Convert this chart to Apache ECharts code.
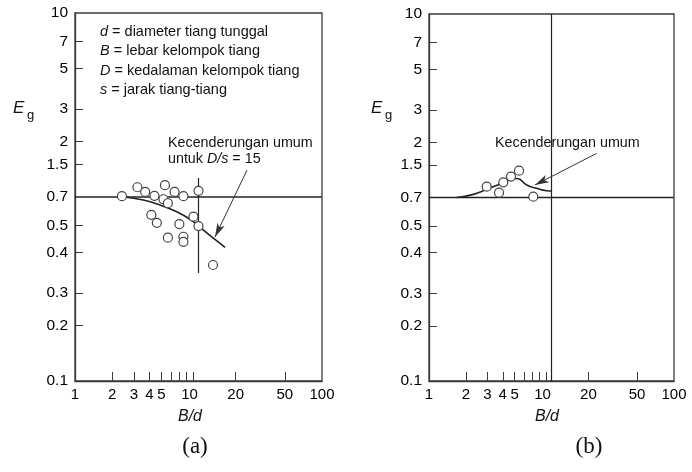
<!DOCTYPE html>
<html>
<head>
<meta charset="utf-8">
<style>
  html, body { margin: 0; padding: 0; background: #fff; }
  #chart-container { width: 692px; height: 472px; }
</style>
</head>
<body>
<div id="chart-container"></div>
<script src="https://cdn.jsdelivr.net/npm/echarts@6.0.0/dist/echarts.min.js"></script>
<script>
// data (sumbu log-log)
var bdA = [2.4, 3.2, 3.7, 4.4, 5.35, 6.4, 7.55, 10, 5.2, 5.65, 4.15, 4.6, 7.0, 9.1, 10, 5.65, 7.55, 7.55, 13.1];
var egA = [1.01, 1.13, 1.065, 1.015, 1.16, 1.065, 1.01, 1.08, 0.972, 0.925, 0.8, 0.724, 0.713, 0.782, 0.695, 0.601, 0.608, 0.571, 0.427];
var trendAx = [2.5, 3.57, 4.88, 6.66, 8.53, 10.3, 13.2, 16.4];
var trendAy = [1.0, 0.963, 0.905, 0.832, 0.757, 0.684, 0.597, 0.533];

var bdB = [2.96, 3.73, 4.04, 4.67, 5.43, 7.1];
var egB = [1.145, 1.062, 1.21, 1.3, 1.4, 1.01];
var trendBx = [1.68, 2.3, 2.96, 3.8, 4.73, 5.23, 6.28, 7.57, 9.14, 10];
var trendBy = [1.0, 1.04, 1.108, 1.185, 1.256, 1.27, 1.17, 1.122, 1.089, 1.085];

// garis bantu dan panah keterangan
var batasA = [0.386, 1.27];        // garis tegak B/d = 10 pada (a)
var panahA = [[24.7, 1.40], [13.6, 0.606]];
var panahB = [[23.4, 1.74], [7.33, 1.17]];

var xTicks = [2, 3, 4, 5, 6, 7, 8, 9, 20, 50];
var xLabelVals = [1, 2, 3, 4, 5, 10, 20, 50, 100];
var yTicks = [0.2, 0.3, 0.5, 0.7, 1.5, 2, 3, 5, 7];
var yLabelVals = [0.1, 0.2, 0.3, 0.5, 0.7, 1, 1.5, 2, 3, 5, 7, 10];
var yLabelText = ['0.1', '0.2', '0.3', '0.4', '0.5', '0.7', '1.5', '2', '3', '5', '7', '10'];

var FONT = 'Liberation Sans, Arial, sans-serif';
var INK = '#3a3a3a';

function pasang(xs, ys) {
  return xs.map(function (x, i) { return [x, ys[i]]; });
}

function sumbuX(gridIndex) {
  return {
    type: 'log', gridIndex: gridIndex, min: 1, max: 100, logBase: 10,
    axisLine: { lineStyle: { color: INK, width: 1.3 } },
    axisTick: { inside: true, length: 9, customValues: xTicks, lineStyle: { color: INK, width: 1 } },
    minorTick: { show: false },
    splitLine: { show: false },
    axisLabel: {
      customValues: xLabelVals, margin: 6, color: '#000', fontSize: 15, fontFamily: FONT,
      formatter: function (v) {
        var r = Math.round(v);
        return r === 10 ? '{s|10}' : String(r);
      },
      rich: { s: { fontSize: 15, fontFamily: FONT, color: '#000', padding: [0, 18, 0, 0] } }
    }
  };
}

function sumbuY(gridIndex) {
  return {
    type: 'log', gridIndex: gridIndex, min: 0.1, max: 10, logBase: 10,
    axisLine: { lineStyle: { color: INK, width: 1.3 } },
    axisTick: { inside: true, length: 8, customValues: yTicks, lineStyle: { color: INK, width: 1 } },
    minorTick: { show: false },
    splitLine: { show: false },
    axisLabel: {
      customValues: yLabelVals, margin: 7, color: '#000', fontSize: 15.5, fontFamily: FONT,
      formatter: function (v) {
        for (var i = 0; i < yLabelVals.length; i++) {
          if (Math.abs(yLabelVals[i] - v) < 1e-6 * yLabelVals[i] + 1e-9) return yLabelText[i];
        }
        return '';
      }
    }
  };
}

function garis(idx, data, smooth, width) {
  return {
    type: 'line', xAxisIndex: idx, yAxisIndex: idx, data: data, smooth: smooth,
    symbol: 'none', silent: true, z: 2,
    lineStyle: { color: '#222', width: width }
  };
}

function titik(idx, data) {
  return {
    type: 'scatter', xAxisIndex: idx, yAxisIndex: idx, data: data,
    symbol: 'circle', symbolSize: 9, z: 5,
    itemStyle: { color: '#fff', borderColor: '#444', borderWidth: 1.2, opacity: 1 }
  };
}

function panah(idx, p) {
  return {
    type: 'line', xAxisIndex: idx, yAxisIndex: idx, data: [], z: 3,
    markLine: {
      silent: true, animation: false,
      symbol: ['none', 'arrow'], symbolSize: [6, 14],
      label: { show: false },
      lineStyle: { color: '#333', width: 1, type: 'solid' },
      data: [[{ coord: p[0] }, { coord: p[1] }]]
    }
  };
}

function teks(x, y, text, size, extra) {
  var st = {
    text: text, x: 0, y: 0, fill: '#111', fontSize: size, fontFamily: FONT,
    verticalAlign: 'middle', align: 'left'
  };
  for (var k in (extra || {})) st[k] = extra[k];
  return { type: 'text', x: x, y: y, style: st, z: 10 };
}

var miring = { i: { fontStyle: 'italic', fontSize: 14.5, fontFamily: FONT, fill: '#111' } };

var option = {
  animation: false,
  backgroundColor: '#fff',
  grid: [
    { left: 75, width: 247, top: 13, bottom: 91, show: true, borderColor: INK, borderWidth: 1.3 },
    { left: 429, width: 245, top: 14, bottom: 91, show: true, borderColor: INK, borderWidth: 1.3 }
  ],
  xAxis: [sumbuX(0), sumbuX(1)],
  yAxis: [sumbuY(0), sumbuY(1)],
  series: [
    garis(0, [[1, 1], [100, 1]], false, 1.4),
    garis(0, [[10, batasA[0]], [10, batasA[1]]], false, 1.2),
    garis(0, pasang(trendAx, trendAy), true, 1.6),
    panah(0, panahA),
    titik(0, pasang(bdA, egA)),

    garis(1, [[1, 1], [100, 1]], false, 1.4),
    garis(1, [[10, 0.1], [10, 10]], false, 1.2),
    garis(1, pasang(trendBx, trendBy), true, 1.6),
    panah(1, panahB),
    titik(1, pasang(bdB, egB))
  ],
  graphic: [
    teks(100, 31.5, '{i|d} = diameter tiang tunggal', 14.5, { rich: miring }),
    teks(100, 51, '{i|B} = lebar kelompok tiang', 14.5, { rich: miring }),
    teks(100, 70.5, '{i|D} = kedalaman kelompok tiang', 14.5, { rich: miring }),
    teks(100, 90, '{i|s} = jarak tiang-tiang', 14.5, { rich: miring }),

    teks(168, 143, 'Kecenderungan umum', 14.3),
    teks(168, 159, 'untuk {j|D/s} = 15', 14.3, { rich: { j: { fontStyle: 'italic', fontSize: 14.3, fontFamily: FONT, fill: '#111' } } }),
    teks(495, 143, 'Kecenderungan umum', 14.3),

    teks(13, 108, 'E', 17, { fontStyle: 'italic' }),
    teks(27, 115, 'g', 13),
    teks(371, 108, 'E', 17, { fontStyle: 'italic' }),
    teks(385, 115, 'g', 13),

    teks(190, 417, 'B/d', 16, { fontStyle: 'italic', align: 'center' }),
    teks(547, 417, 'B/d', 16, { fontStyle: 'italic', align: 'center' }),

    teks(195, 447, '(a)', 23, { align: 'center', fontFamily: 'Liberation Serif, Times New Roman, serif' }),
    teks(589, 447, '(b)', 23, { align: 'center', fontFamily: 'Liberation Serif, Times New Roman, serif' })
  ]
};

var myChart = echarts.init(document.getElementById('chart-container'), null, { renderer: 'canvas' });
myChart.setOption(option);
window.addEventListener('resize', myChart.resize);
</script>
</body>
</html>
